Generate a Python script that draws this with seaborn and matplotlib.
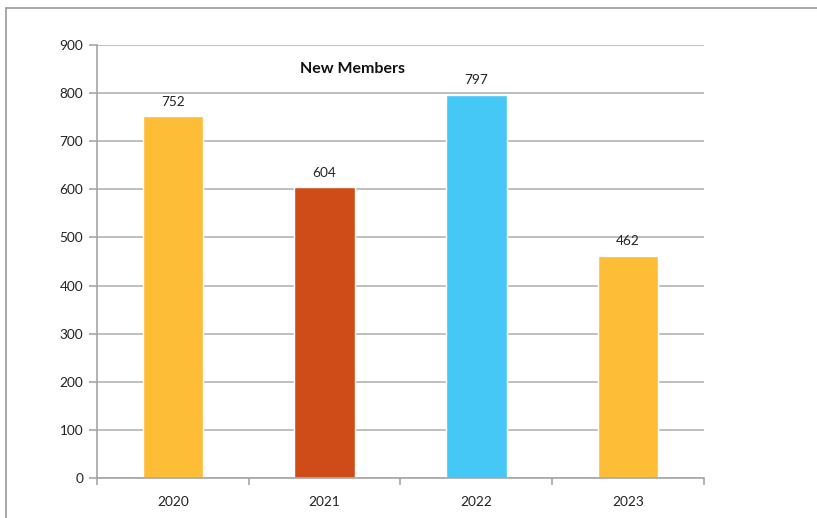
import pandas as pd
import matplotlib.pyplot as plt
import seaborn as sns
from matplotlib.lines import Line2D

# data
years = ["2020", "2021", "2022", "2023"]
members = [752, 604, 797, 462]
colors = ["#FDBD37", "#CF4C18", "#45C8F5", "#FDBD37"]

df = pd.DataFrame({"year": years, "members": members})

sns.set_style("white")
plt.rcParams["font.family"] = ["Lato", "DejaVu Sans"]

fig = plt.figure(figsize=(8.17, 5.18), dpi=100)
ax = fig.add_axes([0.1187, 0.0772, 0.743, 0.836])

sns.barplot(x="year", y="members", hue="year", data=df, palette=colors,
            width=0.4, legend=False, ax=ax, saturation=1)

ax.set_ylim(0, 900)
ax.set_yticks(range(0, 901, 100))
ax.set_xlim(-0.5, 3.5)
ax.yaxis.grid(True, color="#b4b4b4", linewidth=1.2)
ax.set_axisbelow(True)
ax.set_xlabel("")
ax.set_ylabel("")

for s in ["top", "right"]:
    ax.spines[s].set_visible(False)
for s in ["left", "bottom"]:
    ax.spines[s].set_color("#a6a6a6")
    ax.spines[s].set_linewidth(1.2)

# ticks on category boundaries for x
ax.set_xticks([-0.5, 0.5, 1.5, 2.5, 3.5], minor=False)
ax.set_xticklabels([])
ax.set_xticks(range(len(years)), minor=True)
ax.set_xticklabels(years, minor=True)
ax.tick_params(axis="x", which="major", direction="out", length=5, color="#a6a6a6", width=1.2)
ax.tick_params(axis="x", which="minor", length=0, labelsize=9.8, pad=13, labelcolor="#222222")
ax.tick_params(axis="y", direction="out", length=6, color="#a6a6a6", width=1.2,
               labelsize=9.8, labelcolor="#222222", pad=4)
ax.tick_params(left=True, bottom=True)

for i, v in enumerate(members):
    ax.text(i, v + 18, str(v), ha="center", va="bottom", fontsize=9.8, color="#222222")

ax.text(0.421, 0.944, "New Members", transform=ax.transAxes, ha="center", va="center",
        fontsize=11.5, fontweight="bold", color="#111111")

# outer frame of the chart area
fig.add_artist(Line2D([0.0073, 0.0073], [0, 0.9846], color="#9a9a9a", linewidth=1.2))
fig.add_artist(Line2D([0.0073, 1.0], [0.9846, 0.9846], color="#9a9a9a", linewidth=1.2))

plt.savefig("out.png", dpi=100)
